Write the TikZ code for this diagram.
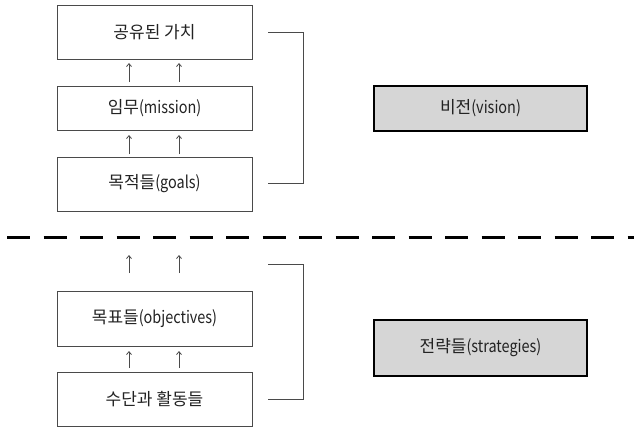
\documentclass[tikz,border=0pt]{standalone}
\usepackage{fontspec}
\setmainfont{Noto Sans CJK KR}
\newfontfamily\narrowlatin[FakeStretch=0.85]{Noto Sans CJK KR}
\newcommand{\lat}[1]{{\narrowlatin #1}}
\usetikzlibrary{arrows.meta}
\definecolor{boxgray}{HTML}{D6D6D6}
\definecolor{linegray}{HTML}{4A4A4A}
\definecolor{textgray}{HTML}{222222}
\begin{document}
\begin{tikzpicture}[x=1pt,y=-1pt,
  plain/.style={draw=linegray,line width=0.9pt,minimum width=195pt,inner sep=0pt,text=textgray,font=\fontsize{17}{19}\selectfont},
  keybox/.style={draw=black,line width=2.2pt,fill=boxgray,minimum width=213pt,inner sep=0pt,text=textgray,font=\fontsize{17}{19}\selectfont},
  uparrow/.style={draw=linegray,line width=0.8pt,-{Straight Barb[length=3pt,width=5pt]}},
  bracket/.style={draw=linegray,line width=0.9pt}]
\useasboundingbox (0,0) rectangle (634,428);
% left column of plain boxes
\node[plain,minimum height=54pt] (values) at (154.5,32) {공유된 가치};
\node[plain,minimum height=44pt] (mission) at (154.5,108) {임무\lat{(mission)}};
\node[plain,minimum height=54pt] (goals) at (154.5,184) {목적들\lat{(goals)}};
\node[plain,minimum height=55pt] (objectives) at (154.5,318.5) {목표들\lat{(objectives)}};
\node[plain,minimum height=54pt] (means) at (154.5,399) {수단과 활동들};
% right column of shaded boxes
\node[keybox,minimum height=45pt] (vision) at (480.5,108.5) {비전\lat{(vision)}};
\node[keybox,minimum height=56pt] (strategies) at (480.5,348) {전략들\lat{(strategies)}};
% upward arrows
\foreach \xx in {129,179}{
  \draw[uparrow] (\xx,82) -- (\xx,63);
  \draw[uparrow] (\xx,154) -- (\xx,135);
  \draw[uparrow] (\xx,273) -- (\xx,255);
  \draw[uparrow] (\xx,368) -- (\xx,351);
}
% brackets
\coordinate (ua) at (268,32);
\coordinate (ub) at (303,32);
\coordinate (uc) at (303,183);
\coordinate (ud) at (268,183);
\draw[bracket] (ua) -- (ub) -- (uc) -- (ud);
\coordinate (la) at (268,264);
\coordinate (lb) at (303,264);
\coordinate (lc) at (303,399);
\coordinate (ld) at (268,399);
\draw[bracket] (la) -- (lb) -- (lc) -- (ld);
% dashed divider
\coordinate (dl) at (7,237);
\coordinate (dr) at (634,237);
\draw[line width=3pt,dash pattern=on 23pt off 13.5pt] (dl) -- (dr);
\end{tikzpicture}
\end{document}
